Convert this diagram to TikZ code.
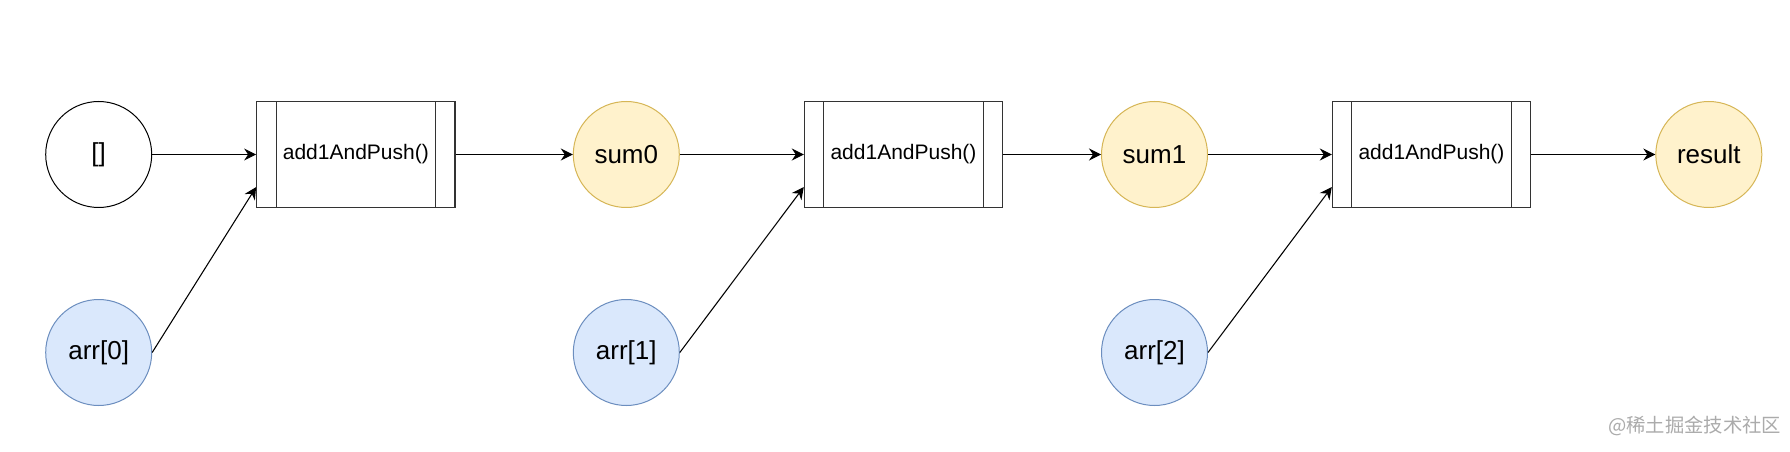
\documentclass[tikz,border=0pt]{standalone}
\usepackage{fontspec}
\setmainfont{Liberation Sans}
\newfontfamily\cjk{Noto Sans CJK SC}
\usetikzlibrary{arrows.meta,calc}
\definecolor{bluefill}{HTML}{DAE8FC}
\definecolor{bluedraw}{HTML}{6C8EBF}
\definecolor{yelfill}{HTML}{FFF2CC}
\definecolor{yeldraw}{HTML}{D6B656}
\definecolor{boxdraw}{HTML}{333333}
\definecolor{wmgray}{HTML}{ABABAB}
\begin{document}
\begin{tikzpicture}[x=0.75pt,y=-0.75pt,
  circ/.style={circle,line width=0.75pt,minimum size=79.5pt,inner sep=0pt,font=\fontsize{19.5}{22}\selectfont},
  plaincirc/.style={circ,draw=black,fill=white},
  bluecirc/.style={circ,draw=bluedraw,fill=bluefill},
  yelcirc/.style={circ,draw=yeldraw,fill=yelfill},
  procbox/.style={draw=boxdraw,line width=0.9pt,minimum width=148.7pt,minimum height=79.2pt,inner sep=0pt,font=\fontsize{15.75}{18}\selectfont},
  inner/.style={draw=boxdraw,line width=0.9pt},
  conn/.style={-{Stealth[length=9pt,width=9pt,inset=3pt]},line width=0.8pt,black},
  wm/.style={font=\cjk\fontsize{14.5}{17}\selectfont,text=wmgray,inner sep=0pt}
]
\useasboundingbox[fill=white] (0,0) rectangle (1790,452);
% top row
\node[plaincirc] (empty) at (98.7,154.5) {[]};
\node[procbox] (b1) at (355.85,154.5) {add1AndPush()};
\node[yelcirc] (sum0) at (626.3,154.5) {sum0};
\node[procbox] (b2) at (903.5,154.5) {add1AndPush()};
\node[yelcirc] (sum1) at (1154.5,154.5) {sum1};
\node[procbox] (b3) at (1431.5,154.5) {add1AndPush()};
\node[yelcirc] (result) at (1708.8,154.5) {result};
% bottom row
\node[bluecirc] (a0) at (98.7,352.5) {arr[0]};
\node[bluecirc] (a1) at (626.3,352.5) {arr[1]};
\node[bluecirc] (a2) at (1154.5,352.5) {arr[2]};
% inner bars of the process boxes
\foreach \b in {b1,b2,b3}{
  \draw[inner] ([xshift=15pt]\b.north west) -- ([xshift=15pt]\b.south west);
  \draw[inner] ([xshift=-15pt]\b.north east) -- ([xshift=-15pt]\b.south east);
}
% connectors
\draw[conn] (empty.east) -- (b1.west);
\draw[conn] (b1.east) -- (sum0.west);
\draw[conn] (sum0.east) -- (b2.west);
\draw[conn] (b2.east) -- (sum1.west);
\draw[conn] (sum1.east) -- (b3.west);
\draw[conn] (b3.east) -- (result.west);
\draw[conn] (a0.east) -- ($(b1.south west)!0.195!(b1.north west)$);
\draw[conn] (a1.east) -- ($(b2.south west)!0.195!(b2.north west)$);
\draw[conn] (a2.east) -- ($(b3.south west)!0.195!(b3.north west)$);
% watermark
\node[wm] (mark) at (1694.5,426) {@稀土掘金技术社区};
\end{tikzpicture}
\end{document}
